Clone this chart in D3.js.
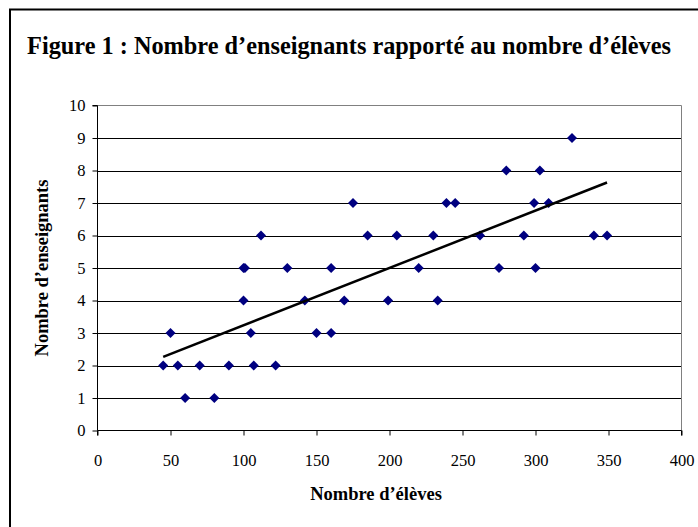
<!DOCTYPE html>
<html>
<head>
<meta charset="utf-8">
<script src="https://cdn.jsdelivr.net/npm/d3@7"></script>
<style>
  html, body { margin: 0; padding: 0; background: #fff; }
  svg { display: block; font-family: "Liberation Serif", "Times New Roman", serif; }
</style>
</head>
<body>
<svg id="chart" width="698" height="527"></svg>
<script>
// Number of pupils per school and the teaching staff assigned to it
const eleves      = [45, 50, 55, 60, 70, 80, 90, 100, 100, 101, 105, 107, 112, 122, 130, 142, 150, 160, 160, 169,
                     175, 185, 199, 205, 220, 230, 233, 239, 245, 262, 275, 280, 292, 299, 300, 303, 309, 325, 340, 349];
const enseignants = [2, 3, 2, 1, 2, 1, 2, 5, 4, 5, 3, 2, 6, 2, 5, 4, 3, 5, 3, 4,
                     7, 6, 4, 6, 5, 6, 4, 7, 7, 6, 5, 8, 6, 7, 5, 8, 7, 9, 6, 6];
const xTicks = [0, 50, 100, 150, 200, 250, 300, 350, 400];
const yTicks = [0, 1, 2, 3, 4, 5, 6, 7, 8, 9, 10];

const titleText = "Figure 1 : Nombre d\u2019enseignants rapport\u00e9 au nombre d\u2019\u00e9l\u00e8ves";
const xLabel = "Nombre d\u2019\u00e9l\u00e8ves";
const yLabel = "Nombre d\u2019enseignants";

const svg = d3.select("#chart");
const plot = { left: 97.5, right: 681.5, top: 105.5, bottom: 430.5 };

const x = d3.scaleLinear().domain([0, 400]).range([plot.left, plot.right]);
const y = d3.scaleLinear().domain([0, 10]).range([plot.bottom, plot.top]);

// outer frame (runs past the right and bottom edges)
svg.append("rect")
  .attr("x", 10).attr("y", 9.5)
  .attr("width", 720).attr("height", 540)
  .attr("fill", "none").attr("stroke", "#000").attr("stroke-width", 2);

// title
svg.append("text")
  .attr("x", 349).attr("y", 54)
  .attr("text-anchor", "middle")
  .attr("font-size", 24.3).attr("font-weight", "bold")
  .text(titleText);

// horizontal gridlines
svg.append("g")
  .selectAll("line")
  .data(yTicks.filter(d => d > 0 && d < 10))
  .join("line")
  .attr("x1", plot.left).attr("x2", plot.right)
  .attr("y1", d => Math.round(y(d)) + 0.5).attr("y2", d => Math.round(y(d)) + 0.5)
  .attr("stroke", "#000").attr("stroke-width", 1);

// plot-area border on the top and right
svg.append("path")
  .attr("d", `M${plot.left},${plot.top}H${plot.right}V${plot.bottom}`)
  .attr("fill", "none").attr("stroke", "#808080").attr("stroke-width", 1);

// axes
const xAxis = d3.axisBottom(x).tickValues(xTicks).tickSize(5).tickPadding(19);
const yAxis = d3.axisLeft(y).tickValues(yTicks).tickSize(5).tickPadding(7);

const gx = svg.append("g").attr("transform", `translate(0,${plot.bottom})`).call(xAxis);
const gy = svg.append("g").attr("transform", `translate(${plot.left},0)`).call(yAxis);

[gx, gy].forEach(g => {
  g.select(".domain").attr("stroke", "#000");
  g.selectAll(".tick line").attr("stroke", "#000");
  g.selectAll(".tick text")
    .attr("font-family", "Liberation Serif, Times New Roman, serif")
    .attr("font-size", 16.5).attr("fill", "#000");
});
gy.select(".domain").attr("d", `M-5,${plot.top}H0V${plot.bottom}`);
gx.select(".domain").attr("d", `M${plot.left},5V0H${plot.right}V5`);

// axis titles
svg.append("text")
  .attr("x", 376).attr("y", 500)
  .attr("text-anchor", "middle")
  .attr("font-size", 18.5).attr("font-weight", "bold")
  .text(xLabel);

svg.append("text")
  .attr("transform", `translate(48,${(plot.top + plot.bottom) / 2}) rotate(-90)`)
  .attr("text-anchor", "middle")
  .attr("font-size", 18.5).attr("font-weight", "bold")
  .text(yLabel);

// least-squares trend line over the observed range
const n = eleves.length;
const mx = d3.mean(eleves), my = d3.mean(enseignants);
let sxy = 0, sxx = 0;
for (let i = 0; i < n; i++) {
  sxy += (eleves[i] - mx) * (enseignants[i] - my);
  sxx += (eleves[i] - mx) ** 2;
}
const slope = sxy / sxx, intercept = my - slope * mx;
const [xmin, xmax] = d3.extent(eleves);

// diamond markers
const diamond = {
  draw(ctx, size) {
    const r = Math.sqrt(size) / 2;
    ctx.moveTo(0, -r); ctx.lineTo(r, 0); ctx.lineTo(0, r); ctx.lineTo(-r, 0); ctx.closePath();
  }
};
const points = eleves.map((v, i) => ({ x: v, y: enseignants[i] }));
svg.append("g")
  .selectAll("path")
  .data(points)
  .join("path")
  .attr("transform", d => `translate(${x(d.x)},${y(d.y)})`)
  .attr("d", d3.symbol().type(diamond).size(100))
  .attr("fill", "#000080");

svg.append("line")
  .attr("x1", x(xmin)).attr("y1", y(intercept + slope * xmin))
  .attr("x2", x(xmax)).attr("y2", y(intercept + slope * xmax))
  .attr("stroke", "#000").attr("stroke-width", 2.5);
</script>
</body>
</html>
